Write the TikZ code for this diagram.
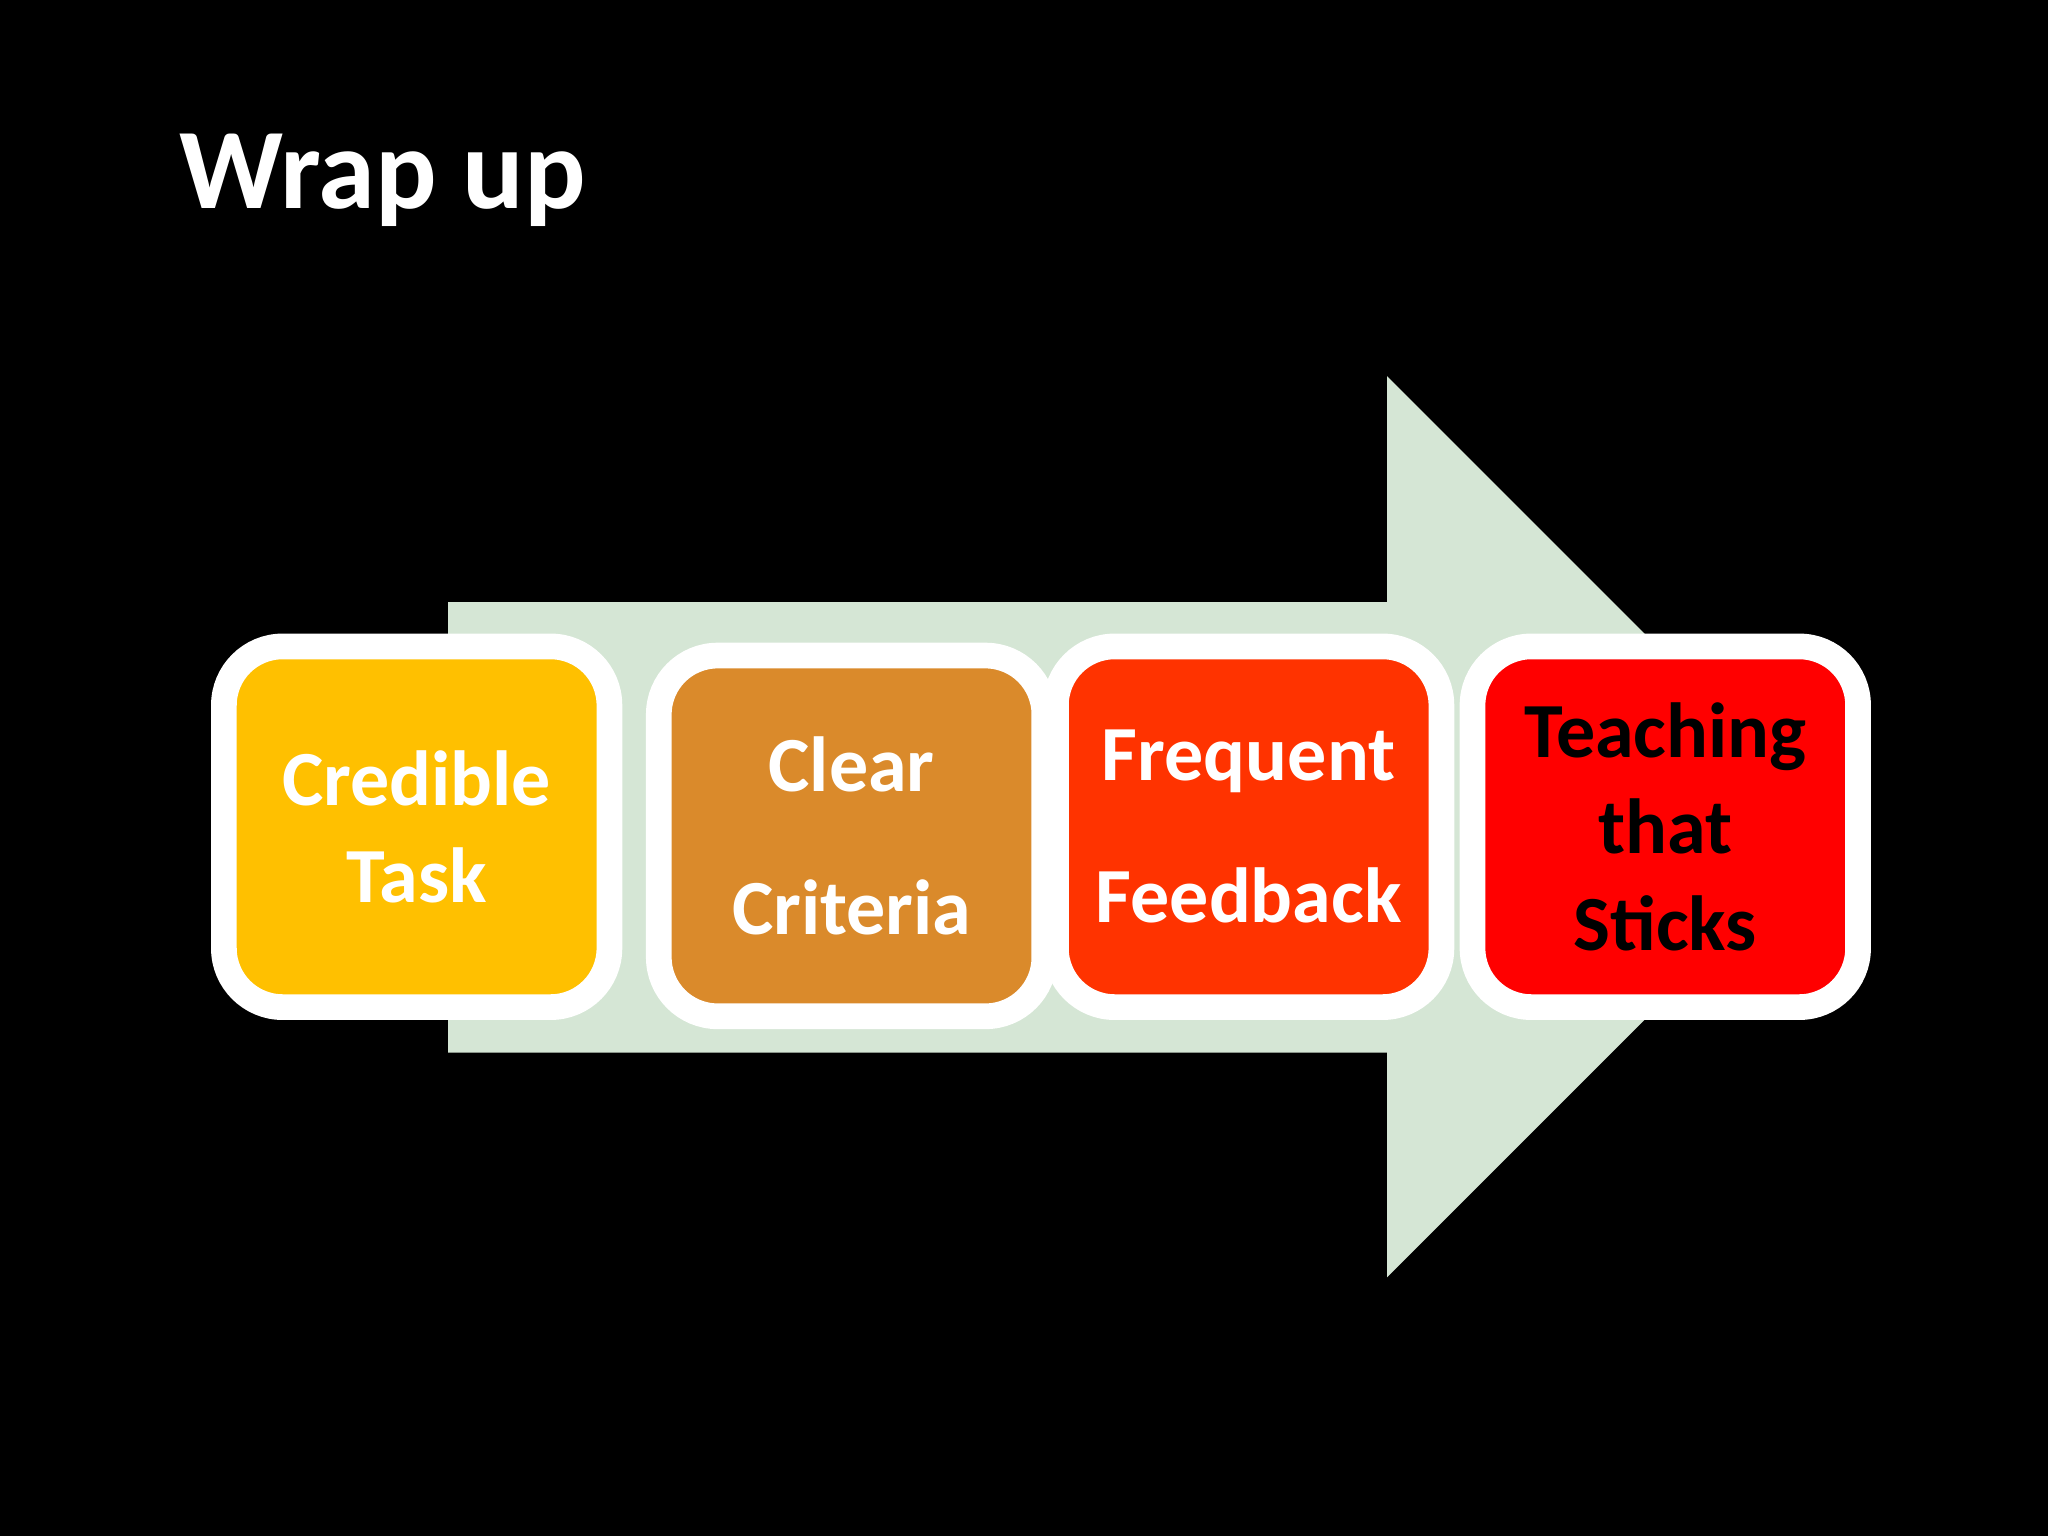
\documentclass[tikz,border=0pt]{standalone}
\usepackage{fontspec}
\setmainfont{Carlito}
\begin{document}
\begin{tikzpicture}[x=0.01cm,y=-0.01cm,
 box/.style={draw=white,line width=2.5pt,rounded corners=0.45cm,minimum width=2.95cm,minimum height=2.76cm,align=center,font=\fontsize{17}{21}\selectfont\bfseries,text=white,double=white},
 inner/.style={draw=white,line width=0.6pt,rounded corners=0.4cm}]
\fill[black] (0,0) rectangle (1568,1176);
\useasboundingbox (0,0) rectangle (1568,1176);
\node[anchor=west,text=white,font=\fontsize{25}{30}\selectfont\bfseries] (title) at (125,138) {Wrap up};
\fill[green!10!gray!20!white,fill={rgb,255:red,213;green,230;blue,213}] (343,461) -- (1062,461) -- (1062,288) -- (1407,633) -- (1062,978) -- (1062,806) -- (343,806) -- cycle;
\node[box,fill={rgb,255:red,255;green,192;blue,0}] (a) at (319,633) {Credible\\Task};
\node[box,fill={rgb,255:red,218;green,138;blue,43},font=\fontsize{17}{31}\selectfont\bfseries] (b) at (652,640) {Clear\\Criteria};
\node[box,fill={rgb,255:red,255;green,51;blue,0},font=\fontsize{17}{31}\selectfont\bfseries] (c) at (956,633) {Frequent\\Feedback};
\node[box,fill={rgb,255:red,255;green,0;blue,0},text=black] (d) at (1275,633) {Teaching\\that\\Sticks};
\end{tikzpicture}
\end{document}
